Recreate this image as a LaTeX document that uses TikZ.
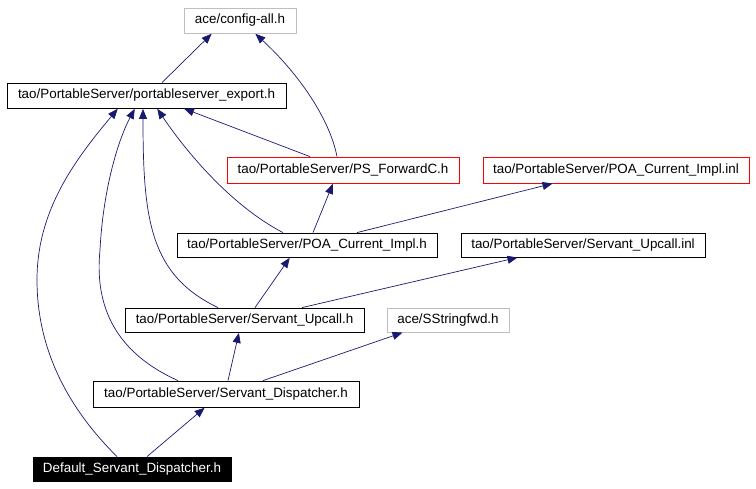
\documentclass[tikz,border=0pt]{standalone}
\usepackage{fontspec}
\setmainfont{Liberation Sans}
\usetikzlibrary{arrows.meta}
\definecolor{edgeblue}{HTML}{191970}
\definecolor{greyline}{HTML}{BFBFBF}
\tikzset{
    file/.style={draw, line width=0.8pt, inner sep=0pt, font=\fontsize{13.4}{15}\selectfont},
    greyfile/.style={file, draw=greyline},
    redfile/.style={file, draw=red},
    edge/.style={draw=edgeblue, line width=0.7pt, -{Triangle[length=10pt,width=8pt]}, shorten >=0.5pt}
}
\begin{document}
\begin{tikzpicture}[x=1pt, y=-1pt]
        \useasboundingbox (0,0) rectangle (756,488);

        \node[greyfile, minimum width=112, minimum height=25] (cfg) at (240,20.5) {ace/config-all.h};
        \node[file, minimum width=279, minimum height=25] (export) at (146.5,95.5) {tao/PortableServer/portableserver\_export.h};
        \node[redfile, minimum width=232, minimum height=26] (fwdc) at (343,170) {tao/PortableServer/PS\_ForwardC.h};
        \node[redfile, minimum width=266, minimum height=26] (implinl) at (616,170) {tao/PortableServer/POA\_Current\_Impl.inl};
        \node[file, minimum width=260, minimum height=24] (implh) at (307,245) {tao/PortableServer/POA\_Current\_Impl.h};
        \node[file, minimum width=244, minimum height=24] (upcallinl) at (583,245) {tao/PortableServer/Servant\_Upcall.inl};
        \node[file, minimum width=239, minimum height=24] (upcallh) at (244.5,320) {tao/PortableServer/Servant\_Upcall.h};
        \node[greyfile, minimum width=122, minimum height=24] (sstr) at (448,320) {ace/SStringfwd.h};
        \node[file, minimum width=266, minimum height=26] (disp) at (226,394) {tao/PortableServer/Servant\_Dispatcher.h};
        \node[file, fill=black, text=white, minimum width=198, minimum height=24] (dflt) at (132,469) {Default\_Servant\_Dispatcher.h};

        % straight includes
        \path[edge] ([xshift=15.5]export.north) -- ([xshift=-28]cfg.south);
        \path[edge] ([xshift=-33]fwdc.north) -- ([xshift=37]export.south);
        \path[edge] ([xshift=6]implh.north) -- ([xshift=-10]fwdc.south);
        \path[edge] ([xshift=50]implh.north) -- ([xshift=-63]implinl.south);
        \path[edge] ([xshift=10.5]upcallh.north) -- ([xshift=-17]implh.south);
        \path[edge] ([xshift=57.5]upcallh.north) -- ([xshift=-65]upcallinl.south);
        \path[edge] ([xshift=2]disp.north) -- ([xshift=-5.5]upcallh.south);
        \path[edge] ([xshift=37]disp.north) -- ([xshift=-45]sstr.south);
        \path[edge] ([xshift=15]dflt.north) -- ([xshift=-21]disp.south);

        % curved includes
        \path[edge] ([xshift=-6]fwdc.north) .. controls (330,120) and (300,75) .. ([xshift=15]cfg.south);
        \path[edge] ([xshift=-24]implh.north) .. controls (230,205) and (185,150) .. ([xshift=10.5]export.south);
        \path[edge] ([xshift=-26.5]upcallh.north) .. controls (150,275) and (143,220) .. ([xshift=-3.5]export.south);
        \path[edge] ([xshift=-48]disp.north) .. controls (110,350) and (95,300) .. (100,250) .. controls (103,190) and (118,140) .. ([xshift=-11.5]export.south);
        \path[edge] ([xshift=-15]dflt.north) .. controls (60,400) and (37,340) .. (37,280) .. controls (37,210) and (75,160) .. ([xshift=-28.5]export.south);
    \end{tikzpicture}
\end{document}
